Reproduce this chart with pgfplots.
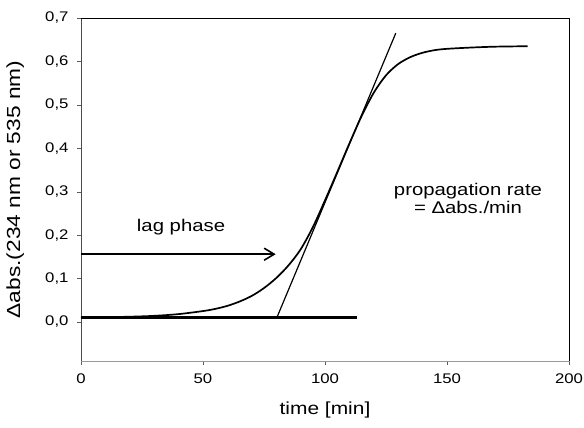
\documentclass[border=0pt]{standalone}
\usepackage{fontspec}
\setmainfont[FakeStretch=1.2]{Liberation Sans}
\usepackage{pgfplots}
\pgfplotsset{compat=1.18}
\usetikzlibrary{arrows.meta}

\pgfplotstableread{
x y
0 0.011
10 0.011
20 0.012
30 0.014
40 0.018
50 0.025
55 0.030
60 0.037
65 0.047
70 0.060
75 0.078
80 0.101
85 0.130
90 0.167
95 0.218
100 0.280
105 0.345
110 0.411
115 0.474
120 0.528
125 0.568
130 0.594
135 0.610
140 0.620
145 0.626
150 0.629
160 0.632
170 0.634
183 0.635
}\curvedata

\begin{document}
\begin{tikzpicture}
\useasboundingbox (-81bp,-67bp) rectangle (503bp,361bp);
\begin{axis}[
  at={(0,0)}, anchor=south west,
  scale only axis, width=488bp, height=343bp,
  xmin=0, xmax=200, ymin=-0.09, ymax=0.7,
  xtick={0,50,100,150,200},
  ytick={0,0.1,0.2,0.3,0.4,0.5,0.6,0.7},
  tick align=outside, tick pos=left, major tick length=4bp,
  axis line style={black!40},
  tick style={black!65},
  /pgf/number format/assume math mode=true,
  ticklabel style={font=\fontsize{14}{16}\selectfont},
  yticklabel style={/pgf/number format/.cd, use comma, fixed, fixed zerofill, precision=1, /tikz/.cd, xshift=-5bp},
  xticklabel style={yshift=-5bp},
  xlabel={time [min]},
  ylabel={Δabs.(234 nm or 535 nm)},
  xlabel style={font=\fontsize{17.5}{20}\selectfont, at={(axis description cs:0.5,-0.143)}, anchor=center},
  ylabel style={font=\fontsize{19}{22}\selectfont, at={(axis description cs:-0.135,0.5)}, anchor=center},
  clip=false,
]
\draw[black!70, line width=0.8bp] (rel axis cs:0,0) -- (rel axis cs:0,1);
\draw[black, line width=0.8bp] (rel axis cs:0,1) -- (rel axis cs:1,1) -- (rel axis cs:1,0);
% baseline
\addplot[black, line width=2.8bp] coordinates {(0,0.011) (113,0.011)};
% tangent
\addplot[black, line width=1.2bp] coordinates {(80.2,0.009) (129,0.665)};
% curve
\addplot[black, line width=1.7bp, smooth] table[x=x, y=y] {\curvedata};
% lag phase arrow
\addplot[black, line width=1.6bp, -{Straight Barb[length=10bp, width=12bp, line width=1.6bp]}] coordinates {(0,0.156) (79.8,0.156)};
\node[font=\fontsize{17}{20}\selectfont] at (axis cs:41,0.219) {lag phase};
\node[font=\fontsize{17}{20}\selectfont, align=center] at (axis cs:158.6,0.285) {propagation rate\\[-2bp] = Δabs./min};
\end{axis}
\end{tikzpicture}
\end{document}
